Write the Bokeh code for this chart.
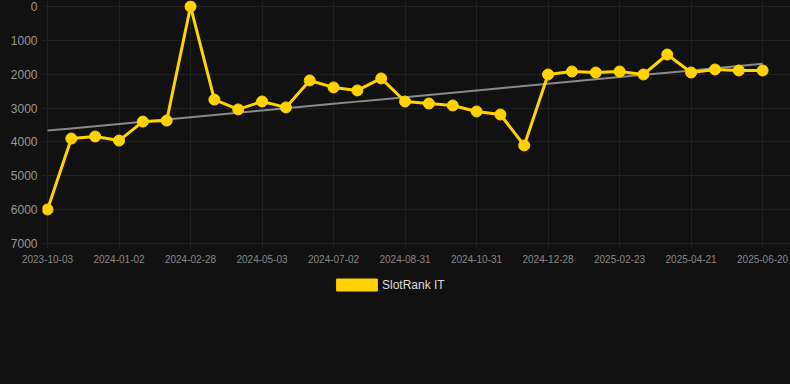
import numpy as np
from bokeh.plotting import figure
from bokeh.layouts import column
from bokeh.models import (Range1d, FixedTicker, Legend, LegendItem,
                          ColumnDataSource, GlobalInlineStyleSheet)
from bokeh.embed import file_html
from bokeh.resources import INLINE

# ---- data -------------------------------------------------------------
tick_labels = ["2023-10-03", "2024-01-02", "2024-02-28", "2024-05-03",
               "2024-07-02", "2024-08-31", "2024-10-31", "2024-12-28",
               "2025-02-23", "2025-04-21", "2025-06-20"]
rank = [5995, 3900, 3840, 3960, 3400, 3370, 0, 2750, 3040, 2805, 2980,
        2185, 2390, 2480, 2125, 2806, 2865, 2924, 3100, 3190, 4105,
        2008, 1920, 1950, 1920, 2008, 1418, 1950, 1860, 1890, 1890]
y_ticks = [0, 1000, 2000, 3000, 4000, 5000, 6000, 7000]
series_name = "SlotRank IT"

# ---- derived ----------------------------------------------------------
idx = list(range(len(rank)))
tick_idx = idx[::3]
slope, intercept = np.polyfit(idx, rank, 1)
trend = [slope * i + intercept for i in idx]

BG = "#111111"
YELLOW = "#FFD200"

p = figure(frame_width=748, frame_height=248, output_backend="svg",
           toolbar_location=None,
           x_range=Range1d(-0.21, 31.17), y_range=Range1d(7148, -177),
           background_fill_color=BG, border_fill_color=BG,
           outline_line_color=None,
           min_border_left=42, min_border_right=0, min_border_top=0,
           min_border_bottom=30)

src = ColumnDataSource(dict(x=idx, y=rank, t=trend))
p.line("x", "t", source=src, line_color="#8a8a8a", line_width=2)
p.line("x", "y", source=src, line_color=YELLOW, line_width=3)
p.scatter("x", "y", source=src, size=11, fill_color=YELLOW, line_color=YELLOW)

# axes
p.yaxis.ticker = FixedTicker(ticks=y_ticks)
p.xaxis.ticker = FixedTicker(ticks=tick_idx)
p.xaxis.major_label_overrides = {i: lab for i, lab in zip(tick_idx, tick_labels)}
for ax in (p.xaxis[0], p.yaxis[0]):
    ax.axis_line_color = None
    ax.major_tick_line_color = None
    ax.minor_tick_line_color = None
    ax.major_tick_in = 0
    ax.major_tick_out = 0
    ax.minor_tick_in = 0
    ax.minor_tick_out = 0
    ax.major_label_text_font = "Liberation Sans"
p.yaxis.major_label_text_font_size = "12px"
p.yaxis.major_label_text_color = "#999999"
p.yaxis.major_label_standoff = 5
p.xaxis.major_label_text_font_size = "10px"
p.xaxis.major_label_text_color = "#888888"
p.xaxis.major_label_standoff = 6

p.xgrid.ticker = FixedTicker(ticks=tick_idx)
p.ygrid.ticker = FixedTicker(ticks=y_ticks)
p.grid.grid_line_color = "#202020"
p.grid.grid_line_width = 1

# ---- legend strip below the chart --------------------------------------
lf = figure(width=790, height=106, output_backend="svg", toolbar_location=None,
            x_range=Range1d(0, 1), y_range=Range1d(0, 1),
            background_fill_color=BG, border_fill_color=BG,
            outline_line_color=None, min_border=0)
lf.axis.visible = False
lf.grid.visible = False
swatch = lf.vbar(x="x", top="y", bottom=0, width=0.5, source=src,
                 fill_color=YELLOW, line_color=YELLOW, visible=False)
legend = Legend(items=[LegendItem(label=series_name, renderers=[swatch])],
                location=(289, 92), orientation="horizontal",
                glyph_width=51, glyph_height=15, label_standoff=0,
                label_height=12,
                label_text_font="Liberation Sans", label_text_font_size="12px",
                label_text_color="#dddddd", background_fill_alpha=0,
                border_line_color=None, margin=0, padding=0, spacing=0,
                inactive_fill_alpha=0, click_policy="none")
lf.add_layout(legend, "center")

page = column(p, lf, spacing=0)
page.stylesheets = [GlobalInlineStyleSheet(
    css="html, body {margin:0 !important; padding:0; background:#111111; overflow:hidden;}")]

open("out.html", "w").write(file_html(page, INLINE))
